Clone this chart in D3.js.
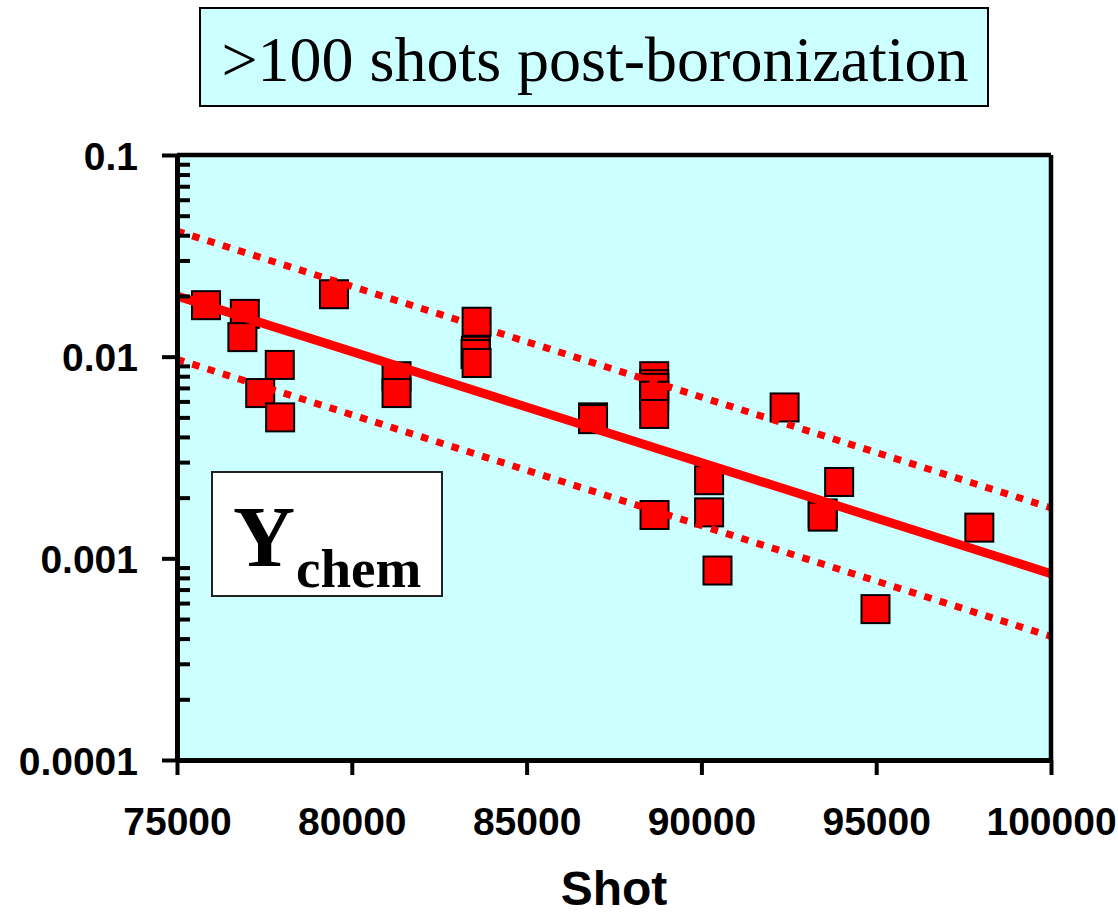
<!DOCTYPE html>
<html>
<head>
<meta charset="utf-8">
<script src="https://cdn.jsdelivr.net/npm/d3@7"></script>
<style>
  html, body { margin: 0; padding: 0; background: #ffffff; }
  svg { display: block; }
</style>
</head>
<body>
<svg id="chart" width="1118" height="916"></svg>
<script>
// Chemical erosion yield versus shot number, >100 shots after boronization
const shots = [75830, 76940, 76870, 79490, 77940, 77380, 77950, 81280, 81280,
               83570, 83550, 83540, 83570, 86900, 86900, 88650, 88650, 88650,
               88650, 88650, 88660, 92380, 90220, 90220, 90460, 93940, 93470,
               93470, 97950, 94980];
const yields = [0.0180, 0.0163, 0.0125, 0.0204, 0.0091, 0.0066, 0.0050, 0.0080, 0.0066,
                0.0149, 0.0107, 0.0103, 0.0093, 0.0050, 0.0049, 0.0080, 0.0073, 0.0070,
                0.0064, 0.0052, 0.00164, 0.0056, 0.00244, 0.00169, 0.00087, 0.00239, 0.00167,
                0.00161, 0.00142, 0.00056];

// Exponential fit and its upper / lower bounds
const fitShots = [75000, 100000];
const fitYield = [0.0200, 0.00084];
const upperYield = [0.0420, 0.00178];
const lowerYield = [0.0097, 0.00041];

const xTicks = [75000, 80000, 85000, 90000, 95000, 100000];
const yTicks = [0.0001, 0.001, 0.01, 0.1];
const yTickLabels = ["0.0001", "0.001", "0.01", "0.1"];

const titleText = ">100 shots post-boronization";
const xTitle = "Shot";

const svg = d3.select("#chart");
const plotL = 177, plotR = 1051, plotT = 155, plotB = 760;

const x = d3.scaleLinear().domain([75000, 100000]).range([plotL, plotR]);
const y = d3.scaleLog().domain([0.0001, 0.1]).range([plotB, plotT]);

const sans = "'Liberation Sans', Arial, sans-serif";
const serif = "'Liberation Serif', 'Times New Roman', serif";

// Title box
svg.append("rect")
  .attr("x", 200).attr("y", 8).attr("width", 788).attr("height", 98)
  .attr("fill", "#ccffff").attr("stroke", "#000").attr("stroke-width", 2);
svg.append("text")
  .attr("x", 595).attr("y", 81)
  .attr("text-anchor", "middle")
  .attr("font-family", serif).attr("font-size", 64)
  .attr("fill", "#000")
  .text(titleText);

// Plot background
svg.append("rect")
  .attr("x", plotL).attr("y", plotT)
  .attr("width", plotR - plotL).attr("height", plotB - plotT)
  .attr("fill", "#ccffff");

// Data markers
const pts = shots.map((s, i) => ({ s, v: yields[i] }));
const size = 28;
svg.append("g").selectAll("rect")
  .data(pts)
  .join("rect")
  .attr("x", d => x(d.s) - size / 2)
  .attr("y", d => y(d.v) - size / 2)
  .attr("width", size).attr("height", size)
  .attr("fill", "#ff0000")
  .attr("stroke", "#000").attr("stroke-width", 2);

// Fit lines
const line = d3.line().x(d => x(d[0])).y(d => y(d[1]));
svg.append("clipPath").attr("id", "plotclip")
  .append("rect").attr("x", plotL).attr("y", plotT)
  .attr("width", plotR - plotL).attr("height", plotB - plotT);

const lines = svg.append("g").attr("clip-path", "url(#plotclip)");
lines.append("path")
  .datum(fitShots.map((s, i) => [s, fitYield[i]]))
  .attr("d", line).attr("fill", "none")
  .attr("stroke", "#ff0000").attr("stroke-width", 9);
[upperYield, lowerYield].forEach(arr => {
  lines.append("path")
    .datum(fitShots.map((s, i) => [s, arr[i]]))
    .attr("d", line).attr("fill", "none")
    .attr("stroke", "#ff0000").attr("stroke-width", 7)
    .attr("stroke-dasharray", "7.5,8.5");
});

// Y subscript label box
const yb = svg.append("g");
yb.append("rect")
  .attr("x", 212).attr("y", 472).attr("width", 230).attr("height", 124)
  .attr("fill", "#ffffff").attr("stroke", "#222").attr("stroke-width", 2);
const yl = yb.append("text")
  .attr("x", 233).attr("y", 566)
  .attr("font-family", serif).attr("font-weight", "bold").attr("fill", "#000");
yl.append("tspan").attr("font-size", 86).text("Y");
yl.append("tspan").attr("x", 296).attr("y", 587).attr("font-size", 55).text("chem");

// Frame
const frame = svg.append("g").attr("stroke", "#000").attr("stroke-width", 4.5);
frame.append("line").attr("x1", plotL).attr("x2", plotR).attr("y1", plotT).attr("y2", plotT);
frame.append("line").attr("x1", plotR).attr("x2", plotR).attr("y1", plotT).attr("y2", plotB);

// Y axis: major ticks outward with labels
const yAxis = d3.axisLeft(y)
  .tickValues(yTicks)
  .tickFormat((d, i) => yTickLabels[i])
  .tickSizeInner(15).tickSizeOuter(0).tickPadding(24);
const gy = svg.append("g").attr("transform", `translate(${plotL},0)`).call(yAxis);
gy.select(".domain").attr("stroke", "#000").attr("stroke-width", 5);
gy.selectAll(".tick line").attr("stroke", "#000").attr("stroke-width", 4);
gy.selectAll(".tick text")
  .attr("font-family", sans).attr("font-weight", "bold")
  .attr("font-size", 39).attr("fill", "#000").attr("dy", "0.36em");

// Y axis: minor ticks inward
const minor = [];
[0.0001, 0.001, 0.01].forEach(dec => {
  for (let k = 2; k <= 9; k++) minor.push(dec * k);
});
const yMinor = d3.axisLeft(y).tickValues(minor).tickFormat("")
  .tickSizeInner(-13).tickSizeOuter(0);
const gm = svg.append("g").attr("transform", `translate(${plotL},0)`).call(yMinor);
gm.select(".domain").remove();
gm.selectAll(".tick line").attr("stroke", "#000").attr("stroke-width", 4);

// X axis
const xAxis = d3.axisBottom(x)
  .tickValues(xTicks)
  .tickFormat(d3.format("d"))
  .tickSizeInner(15).tickSizeOuter(0).tickPadding(32);
const gx = svg.append("g").attr("transform", `translate(0,${plotB})`).call(xAxis);
gx.select(".domain").attr("stroke", "#000").attr("stroke-width", 5);
gx.selectAll(".tick line").attr("stroke", "#000").attr("stroke-width", 4);
gx.selectAll(".tick text")
  .attr("font-family", sans).attr("font-weight", "bold")
  .attr("font-size", 39).attr("fill", "#000");

// X axis title
svg.append("text")
  .attr("x", 614).attr("y", 905)
  .attr("text-anchor", "middle")
  .attr("font-family", sans).attr("font-weight", "bold")
  .attr("font-size", 48).attr("fill", "#000")
  .text(xTitle);
</script>
</body>
</html>
